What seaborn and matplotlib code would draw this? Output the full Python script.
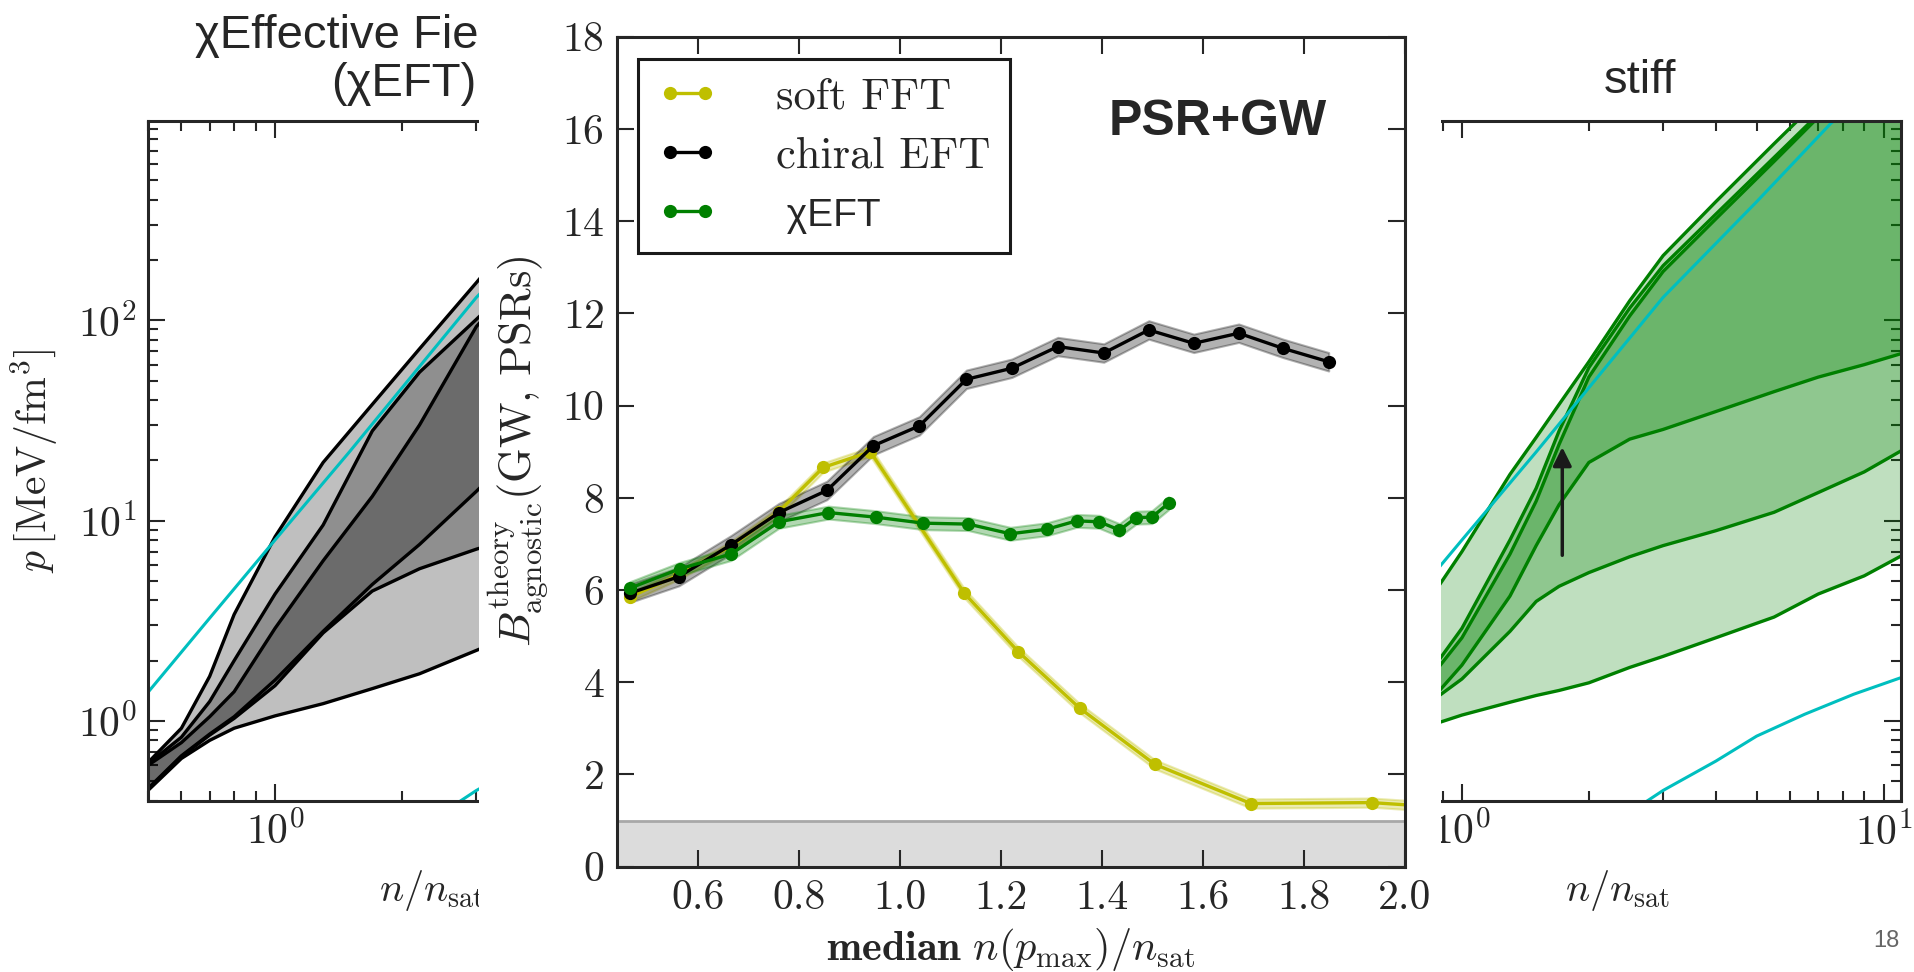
import numpy as np
import pandas as pd
import seaborn as sns
import matplotlib.pyplot as plt
from matplotlib.patches import Rectangle
from matplotlib.ticker import NullFormatter

# centre panel: Bayes factor vs median n(p_max)/n_sat
soft_x = [0.466, 0.563, 0.666, 0.761, 0.849, 0.942, 1.128, 1.235, 1.356, 1.505, 1.695, 1.934, 2.06]
soft_y = [5.85, 6.33, 6.95, 7.70, 8.66, 9.00, 5.93, 4.66, 3.44, 2.22, 1.37, 1.39, 1.30]
chiral_x = [0.466, 0.563, 0.666, 0.761, 0.856, 0.948, 1.039, 1.132, 1.222, 1.313,
            1.404, 1.493, 1.582, 1.671, 1.759, 1.849]
chiral_y = [5.93, 6.29, 6.98, 7.68, 8.16, 9.13, 9.56, 10.57, 10.81, 11.28,
            11.14, 11.64, 11.35, 11.57, 11.24, 10.95]
xeft_x = [0.466, 0.565, 0.666, 0.761, 0.859, 0.953, 1.047, 1.136, 1.219, 1.292,
          1.350, 1.395, 1.435, 1.468, 1.499, 1.532]
xeft_y = [6.04, 6.46, 6.78, 7.48, 7.68, 7.58, 7.45, 7.43, 7.22, 7.32,
          7.50, 7.48, 7.30, 7.57, 7.58, 7.88]
soft_err, chiral_err, xeft_err = 0.10, 0.20, 0.14

# left panel: chiral EFT pressure bands (grey)
xl = [0.5, 0.6, 0.7, 0.8, 1.0, 1.3, 1.7, 2.2, 3.0, 3.2]
l_a = [0.62, 0.92, 1.67, 3.4, 8.3, 19.5, 38, 72, 154, 181]
l_b = [0.61, 0.83, 1.25, 2.0, 4.3, 9.5, 28, 55, 101, 115]
l_c = [0.60, 0.78, 1.05, 1.4, 2.9, 6.3, 13.2, 30, 93, 108]
l_d = [0.46, 0.67, 0.86, 1.05, 1.6, 2.8, 4.8, 7.6, 14, 16]
l_e = [0.455, 0.665, 0.85, 1.03, 1.5, 2.75, 4.45, 5.75, 7.2, 7.5]
l_f = [0.45, 0.65, 0.80, 0.92, 1.06, 1.22, 1.45, 1.72, 2.25, 2.38]

# right panel: stiff bands (green)
xr = [0.88, 1.0, 1.3, 1.5, 1.7, 2.0, 2.5, 3.0, 4.0, 5.5, 7.0, 9.0, 11.5]
r_a = [4.7, 7.0, 17, 26, 38, 62, 125, 210, 390, 760, 1250, 2000, 3000]
r_b = [2.0, 2.9, 8.0, 14.5, 28, 58, 115, 187, 338, 649, 1065, 1700, 2600]
r_c = [1.85, 2.6, 6.8, 12.5, 24, 52, 105, 175, 320, 620, 1030, 1650, 2500]
r_d = [1.4, 1.9, 4.2, 7.5, 12, 19.5, 25.5, 28.5, 35, 44, 52, 60, 70]
r_e = [1.33, 1.62, 2.8, 3.95, 4.7, 5.5, 6.6, 7.5, 8.9, 11.0, 13.8, 17.5, 23.5]
r_f = [0.98, 1.07, 1.24, 1.34, 1.42, 1.55, 1.85, 2.1, 2.6, 3.3, 4.3, 5.3, 7.0]

# cyan reference curves (both side panels)
cyan_hi_x = [0.5, 0.7, 1.0, 1.5, 2.0, 3.0, 5.0, 7.5, 10, 12]
cyan_hi_y = [1.39, 3.26, 8.0, 22, 46, 130, 390, 960, 1600, 2200]
cyan_lo_x = [2.4, 3.0, 4.0, 5.0, 6.5, 8.5, 11.5]
cyan_lo_y = [0.33, 0.45, 0.63, 0.84, 1.08, 1.36, 1.7]

arrow_x, arrow_y0, arrow_y1 = 1.73, 6.5, 24

BLACK, GREEN, YELLOW, CYAN = '#000000', '#008000', '#bfbf00', '#00bfbf'

sns.set_theme(style='ticks')
plt.rcParams['font.family'] = 'cmr10'
plt.rcParams['mathtext.fontset'] = 'cm'
plt.rcParams['axes.unicode_minus'] = False
plt.rcParams['axes.formatter.use_mathtext'] = True
plt.rcParams['axes.linewidth'] = 2.2

W, H = 1915, 972
fig = plt.figure(figsize=(W / 100, H / 100), dpi=100)


def box(x0, y0, x1, y1):
    return [x0 / W, 1 - y1 / H, (x1 - x0) / W, (y1 - y0) / H]


ax_l = fig.add_axes(box(148, 120.7, 714.5, 800.7))
ax_r = fig.add_axes(box(1335, 120.7, 1901, 800.7))
ax_c = fig.add_axes(box(616.7, 36.7, 1405, 866.7))
ax_l.set_zorder(0)
ax_r.set_zorder(1)
ax_c.set_zorder(3)
# the centre figure sits on top of the two side panels
fig.add_artist(Rectangle((479 / W, 0), (1441 - 479) / W, 1, transform=fig.transFigure,
                         facecolor='white', edgecolor='none', zorder=2))

# ---- side panels
for ax, xs, curves, col in [(ax_l, xl, (l_a, l_b, l_c, l_d, l_e, l_f), BLACK),
                            (ax_r, xr, (r_a, r_b, r_c, r_d, r_e, r_f), GREEN)]:
    a, b, c, d, e, f = curves
    ax.fill_between(xs, a, f, color=col, alpha=0.25, lw=0)
    ax.fill_between(xs, b, e, color=col, alpha=0.25, lw=0)
    ax.fill_between(xs, c, d, color=col, alpha=0.25, lw=0)
    for yy in curves:
        ax.plot(xs, yy, color=col, lw=2.4)
    ax.plot(cyan_hi_x, cyan_hi_y, color=CYAN, lw=2.2)
    ax.plot(cyan_lo_x, cyan_lo_y, color=CYAN, lw=2.2)
    ax.set_xscale('log')
    ax.set_yscale('log')
    ax.set_xlim(0.5, 11)
    ax.set_ylim(0.4, 990)
    ax.tick_params(which='both', direction='in', top=True, right=True, labelsize=30, width=1.5)
    ax.tick_params(which='major', length=12, pad=8)
    ax.tick_params(which='minor', length=7)
    ax.xaxis.set_minor_formatter(NullFormatter())
    ax.yaxis.set_minor_formatter(NullFormatter())
    ax.set_xlabel(r'$n/n_{\rm sat}$', fontsize=29)
    ax.xaxis.set_label_coords(0.5, -0.099)

ax_l.set_ylabel(r'$p\,[\mathrm{MeV/fm^3}]$', fontsize=30)
ax_l.yaxis.set_label_coords(-0.155, 0.5)
ax_r.tick_params(axis='y', which='both', labelleft=False)
ax_r.annotate('', xy=(arrow_x, arrow_y1), xytext=(arrow_x, arrow_y0),
              arrowprops=dict(arrowstyle='-|>', color='k', lw=2.5, mutation_scale=28))

# ---- centre panel
ax_c.axhspan(0, 1, color='#dcdcdc', lw=0, zorder=0)
ax_c.axhline(1, color='#a8a8a8', lw=2, zorder=0.5)

series = [('soft FFT', soft_x, soft_y, soft_err, YELLOW),
          ('chiral EFT', chiral_x, chiral_y, chiral_err, BLACK),
          (' χEFT', xeft_x, xeft_y, xeft_err, GREEN)]
for name, xs, ys, err, col in series:
    df = pd.DataFrame({'x': xs, 'y': ys})
    ax_c.fill_between(df['x'], df['y'] - err, df['y'] + err, color=col, alpha=0.3, lw=1.5)
    sns.lineplot(data=df, x='x', y='y', ax=ax_c, color=col, lw=2.4, marker='o',
                 markersize=9.5, markeredgecolor=col, markeredgewidth=0,
                 sort=False, estimator=None, errorbar=None, label=name)

ax_c.set_xlim(0.44, 2.0)
ax_c.set_ylim(0, 18)
ax_c.set_xticks(np.arange(0.6, 2.01, 0.2))
ax_c.set_yticks(np.arange(0, 19, 2))
ax_c.set_xticklabels(['0.6', '0.8', '1.0', '1.2', '1.4', '1.6', '1.8', '2.0'])
ax_c.tick_params(direction='in', top=True, right=True, labelsize=30, length=12, width=1.5, pad=9)
ax_c.set_xlabel(r'$\mathbf{median}\ n(p_{\max})/n_{\rm sat}$', fontsize=30.5)
ax_c.xaxis.set_label_coords(0.5, -0.072)
ax_c.set_ylabel(r'$B^{\rm theory}_{\rm agnostic}({\rm GW,\,PSRs})$', fontsize=32)
ax_c.yaxis.set_label_coords(-0.085, 0.5)

h, lab = ax_c.get_legend_handles_labels()
leg = ax_c.legend(h, lab, loc='upper left', bbox_to_anchor=(0.0266, 0.973), borderaxespad=0,
                  fontsize=32, numpoints=2, handlelength=1.4, handletextpad=1.3,
                  borderpad=0.42, labelspacing=0.42, fancybox=False, edgecolor='k',
                  framealpha=1)
leg.get_frame().set_linewidth(2.2)
leg.get_texts()[2].set_fontfamily(['Liberation Sans'])
leg.get_texts()[2].set_fontsize(28)

fig.text(1218 / W, 1 - 135 / H, 'PSR+GW', ha='center', va='baseline', fontsize=36,
         fontweight='bold', family='Liberation Sans', zorder=5)

# slide texts
fig.text(195 / W, 1 - 48 / H, 'χEffective Field', ha='left', va='baseline', fontsize=34,
         family='Liberation Sans', zorder=1.5)
fig.text(476.7 / W, 1 - 96 / H, '(χEFT)', ha='right', va='baseline', fontsize=34,
         family='Liberation Sans', zorder=1.5)
fig.text(1640 / W, 1 - 93 / H, 'stiff', ha='center', va='baseline', fontsize=34,
         family='Liberation Sans')
fig.text(1900 / W, 1 - 947 / H, '18', ha='right', va='baseline', fontsize=17,
         color='#666666', family='Liberation Sans')

fig.savefig('out.png', dpi=100, facecolor='white')
